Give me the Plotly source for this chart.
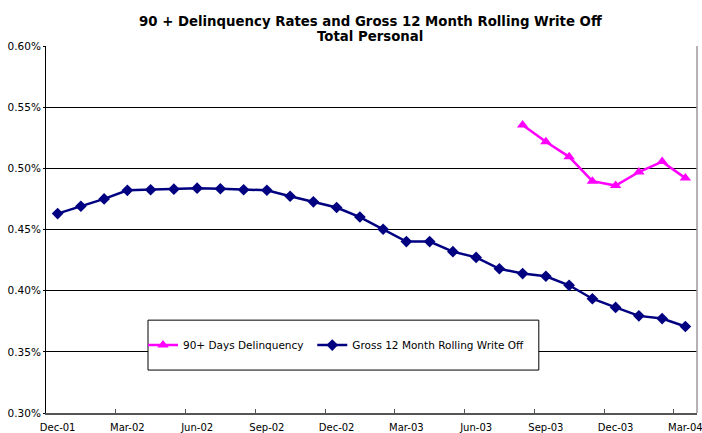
import plotly.graph_objects as go

months = ["Dec-01", "Jan-02", "Feb-02", "Mar-02", "Apr-02", "May-02", "Jun-02",
          "Jul-02", "Aug-02", "Sep-02", "Oct-02", "Nov-02", "Dec-02", "Jan-03",
          "Feb-03", "Mar-03", "Apr-03", "May-03", "Jun-03", "Jul-03", "Aug-03",
          "Sep-03", "Oct-03", "Nov-03", "Dec-03", "Jan-04", "Feb-04", "Mar-04"]

write_off = [0.463, 0.469, 0.475, 0.482, 0.4825, 0.483, 0.4838, 0.4833, 0.4825,
             0.4821, 0.4772, 0.4726, 0.468, 0.4602, 0.4502, 0.4401, 0.4401,
             0.4319, 0.4272, 0.4179, 0.4140, 0.4118, 0.4044, 0.3934, 0.3863,
             0.3794, 0.3772, 0.3707]

delinq_months = ["Aug-03", "Sep-03", "Oct-03", "Nov-03", "Dec-03", "Jan-04", "Feb-04", "Mar-04"]
delinquency = [0.5355, 0.5217, 0.5094, 0.4895, 0.4859, 0.4970, 0.5055, 0.4920]

y_ticks = [0.30, 0.35, 0.40, 0.45, 0.50, 0.55, 0.60]

title_lines = ["90 + Delinquency Rates and Gross 12 Month Rolling Write Off", "Total Personal"]

FONT = "DejaVu Sans, Verdana, sans-serif"

fig = go.Figure()
fig.add_trace(go.Scatter(
    x=delinq_months, y=delinquency, mode="lines+markers",
    name="90+ Days Delinquency", legend="legend",
    line=dict(color="#FF00FF", width=2.5),
    marker=dict(symbol="triangle-up", size=10, color="#FF00FF"),
))
fig.add_trace(go.Scatter(
    x=months, y=write_off, mode="lines+markers",
    name="Gross 12 Month Rolling Write Off", legend="legend2",
    line=dict(color="#000080", width=2.5),
    marker=dict(symbol="diamond", size=9, color="#000080"),
))

legend_common = dict(
    orientation="h", yanchor="middle", y=0.185,
    bgcolor="rgba(0,0,0,0)", borderwidth=0,
    font=dict(family=FONT, size=10.5, color="black"),
)

fig.update_layout(
    width=702, height=433,
    margin=dict(l=46, r=5, t=46, b=20, autoexpand=False),
    paper_bgcolor="white", plot_bgcolor="white",
    font=dict(family=FONT, size=10, color="black"),
    showlegend=True,
    legend=dict(x=0.149, xanchor="left", **legend_common),
    legend2=dict(x=0.409, xanchor="left", **legend_common),
    annotations=[
        dict(text="<b>" + title_lines[0] + "</b>", xref="paper", yref="paper",
             x=0.4977, y=1.068, xanchor="center", yanchor="middle", showarrow=False,
             font=dict(family=FONT, size=13.3, color="black")),
        dict(text="<b>" + title_lines[1] + "</b>", xref="paper", yref="paper",
             x=0.4977, y=1.027, xanchor="center", yanchor="middle", showarrow=False,
             font=dict(family=FONT, size=13.3, color="black")),
    ],
    shapes=[
        dict(type="rect", xref="paper", yref="paper",
             x0=0.1567, x1=0.757, y0=0.117, y1=0.253,
             line=dict(color="black", width=1), fillcolor="white", layer="above"),
        dict(type="line", xref="paper", yref="paper",
             x0=1, x1=1, y0=0, y1=1,
             line=dict(color="#9a9a9a", width=1.5)),
    ],
)

fig.update_xaxes(
    type="category", categoryorder="array", categoryarray=months,
    range=[-0.5, 27.5], automargin=False,
    tickmode="linear", tick0=0, dtick=3, tickson="boundaries", tickangle=0,
    ticks="inside", ticklen=4, tickcolor="#555555", ticklabelstandoff=4,
    showgrid=False, showline=True, linecolor="#555555", linewidth=1.5,
    tickfont=dict(family=FONT, size=10, color="black"),
)
fig.update_yaxes(
    range=[0.30, 0.60], tickvals=y_ticks, automargin=False,
    ticktext=[f"{v:.2f}%" for v in y_ticks],
    ticks="outside", ticklen=2, tickcolor="black",
    showgrid=True, gridcolor="black", gridwidth=1,
    showline=True, linecolor="black", linewidth=1,
    zeroline=False,
    tickfont=dict(family=FONT, size=10.5, color="black"),
)

fig.write_html(
    "out.html",
    config={"displayModeBar": False},
    post_script="document.body.style.margin='0';document.body.style.overflow='hidden';",
)
